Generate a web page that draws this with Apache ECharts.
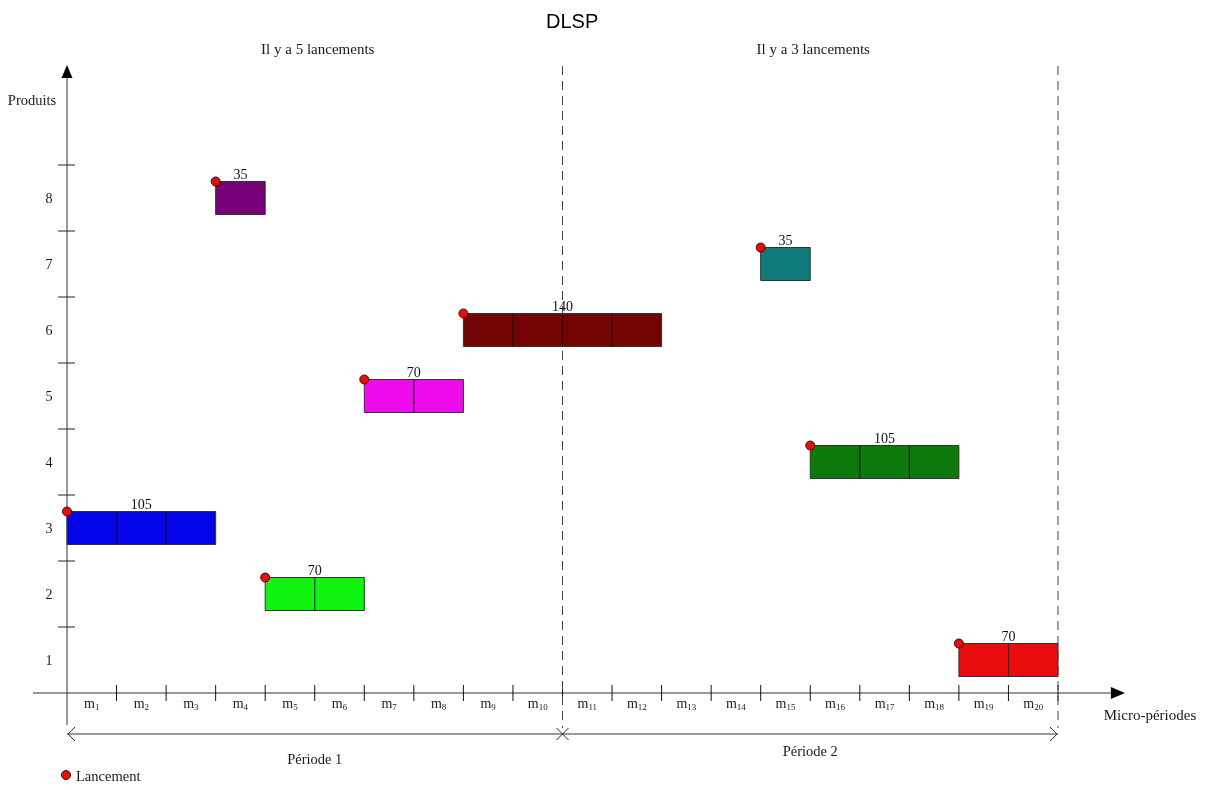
<!DOCTYPE html>
<html>
<head>
<meta charset="utf-8">
<script src="https://cdn.jsdelivr.net/npm/echarts@6/dist/echarts.min.js"></script>
<style>html,body{margin:0;padding:0;background:#fff}#chart{width:1207px;height:790px}</style>
</head>
<body>
<div id="chart"></div>
<script>
// ---- data ----
const titleText = 'DLSP';
const microIndex = ['1','2','3','4','5','6','7','8','9','10','11','12','13','14','15','16','17','18','19','20'];
const productLevels = [1, 2, 3, 4, 5, 6, 7, 8];
const periodBounds = [0, 10, 20];
const periodLabels = ['Période 1', 'Période 2'];
const launchCountLabels = ['Il y a 5 lancements', 'Il y a 3 lancements'];
const barProducts   = [3, 2, 8, 5, 6, 7, 4, 1];
const barStarts     = [0, 4, 3, 6, 8, 14, 15, 18];
const barDurations  = [3, 2, 1, 2, 4, 1, 3, 2];
const barQuantities = [105, 70, 35, 70, 140, 35, 105, 70];

// ---- styles ----
const barPalette = ['#0404e8', '#10f510', '#760076', '#ee0cee', '#730404', '#0f7b7b', '#0b7a0b', '#e80c0c'];
const SERIF = '"Liberation Serif", "DejaVu Serif", serif';
const LINE = '#333';

const chart = echarts.init(document.getElementById('chart'));

const barData = barProducts.map((p, i) => [barStarts[i], p, barDurations[i], barQuantities[i], i]);

function renderBar(params, api) {
  const start = api.value(0), prod = api.value(1), dur = api.value(2), qty = api.value(3), idx = api.value(4);
  const tl = api.coord([start, prod + 0.25]);
  const br = api.coord([start + dur, prod - 0.25]);
  const children = [{
    type: 'rect',
    shape: { x: tl[0], y: tl[1], width: br[0] - tl[0], height: br[1] - tl[1] },
    style: { fill: barPalette[idx], stroke: '#333', lineWidth: 1 }
  }];
  for (let k = 1; k < dur; k++) {
    const x = api.coord([start + k, prod])[0];
    children.push({ type: 'line', shape: { x1: x, y1: tl[1], x2: x, y2: br[1] }, style: { stroke: '#111', lineWidth: 1 } });
  }
  children.push({
    type: 'text',
    style: { text: String(qty), x: (tl[0] + br[0]) / 2, y: tl[1] - 6, align: 'center', verticalAlign: 'middle',
      font: '14px ' + SERIF, fill: '#111' }
  });
  children.push({
    type: 'circle', shape: { cx: tl[0], cy: tl[1], r: 4.5 },
    style: { fill: '#e01010', stroke: '#5a0000', lineWidth: 1 }
  });
  return { type: 'group', children };
}

function renderFrame(params, api) {
  const o = api.coord([0, 0.5]);           // axis origin
  const ch = [];
  const ln = (x1, y1, x2, y2, st) => ch.push({ type: 'line', shape: { x1, y1, x2, y2 }, style: Object.assign({ stroke: LINE, lineWidth: 1 }, st || {}) });
  const tx = (text, x, y, font, extra) => ch.push({ type: 'text', style: Object.assign({ text, x, y, font, fill: '#1a1a1a', align: 'center', verticalAlign: 'middle' }, extra || {}) });
  const xEnd = api.coord([20, 0.5])[0];
  const xAxisTip = api.coord([21.35, 0.5])[0];
  const yTop = api.coord([0, 10])[1];
  // x axis
  ln(o[0] - 34, o[1], xAxisTip - 12, o[1]);
  ch.push({ type: 'polygon', shape: { points: [[xAxisTip, o[1]], [xAxisTip - 14, o[1] - 6], [xAxisTip - 14, o[1] + 6]] }, style: { fill: '#000' } });
  // y axis
  ln(o[0], o[1] + 32, o[0], yTop + 12);
  ch.push({ type: 'polygon', shape: { points: [[o[0], yTop - 1], [o[0] - 5.5, yTop + 12], [o[0] + 5.5, yTop + 12]] }, style: { fill: '#000' } });
  // y ticks and labels
  productLevels.forEach(p => {
    const yt = api.coord([0, p + 0.5])[1];
    ln(o[0] - 9, yt, o[0] + 8, yt, { stroke: '#222' });
    const yl = api.coord([0, p])[1];
    tx(String(p), o[0] - 18, yl + 1, '14px ' + SERIF);
  });
  // x ticks and labels
  microIndex.forEach((lab, i) => {
    const xt = api.coord([i + 1, 0.5])[0];
    ln(xt, o[1] - 8, xt, o[1] + 8, { stroke: '#111' });
    const xc = api.coord([i + 0.5, 0.5])[0];
    ch.push({ type: 'text', style: {
      text: '{m|m}{s|' + lab + '}', x: xc, y: o[1] + 11, align: 'center', verticalAlign: 'middle',
      rich: { m: { font: '14px ' + SERIF, fill: '#222', lineHeight: 16, verticalAlign: 'middle' },
              s: { font: '9px ' + SERIF, fill: '#222', lineHeight: 8, verticalAlign: 'bottom' } }
    } });
  });
  // dashed period boundaries
  [periodBounds[1], periodBounds[2]].forEach(b => {
    const xb = api.coord([b, 0.5])[0];
    ln(xb, yTop, xb, o[1] + 35, { stroke: '#444', lineDash: [9, 6] });
  });
  // period arrow
  const ya = o[1] + 41;
  const xMid = api.coord([periodBounds[1], 0.5])[0];
  ln(o[0], ya, xEnd, ya);
  ch.push({ type: 'polyline', shape: { points: [[o[0] + 8, ya - 7], [o[0] + 1, ya], [o[0] + 8, ya + 7]] }, style: { stroke: LINE, fill: null, lineWidth: 1 } });
  ch.push({ type: 'polyline', shape: { points: [[xEnd - 8, ya - 7], [xEnd - 1, ya], [xEnd - 8, ya + 7]] }, style: { stroke: LINE, fill: null, lineWidth: 1 } });
  ln(xMid - 6, ya - 6, xMid + 6, ya + 6, { stroke: '#222' });
  ln(xMid - 6, ya + 6, xMid + 6, ya - 6, { stroke: '#222' });
  // period labels & launch counts
  periodLabels.forEach((lab, i) => {
    const xc = api.coord([(periodBounds[i] + periodBounds[i + 1]) / 2, 0.5])[0];
    tx(lab, xc + 0, o[1] + (i === 0 ? 67 : 59), '14.5px ' + SERIF);
    tx(launchCountLabels[i], xc + 3, 50, '15px ' + SERIF);
  });
  // axis names
  tx('Produits', 32, 101, '14.5px ' + SERIF);
  tx('Micro-périodes', 1150, o[1] + 23, '15px ' + SERIF);
  // legend
  ch.push({ type: 'circle', shape: { cx: 66, cy: 775, r: 4.5 }, style: { fill: '#e01010', stroke: '#5a0000', lineWidth: 1 } });
  tx('Lancement', 76, 777, '14.5px ' + SERIF, { align: 'left' });
  return { type: 'group', children: ch };
}

chart.setOption({
  animation: false,
  backgroundColor: '#fff',
  title: { text: titleText, left: 541, top: 7, textStyle: { fontFamily: '"Liberation Sans", Arial, sans-serif', fontSize: 20, fontWeight: 'normal', color: '#000' } },
  grid: { left: 67, right: 149, top: 66, bottom: 97 },
  xAxis: { type: 'value', min: 0, max: 20, show: false },
  yAxis: { type: 'value', min: 0.5, max: 10, show: false },
  series: [
    { type: 'custom', name: 'frame', renderItem: renderFrame, data: [[0, 0.5]], clip: false, silent: true, z: 1 },
    { type: 'custom', name: 'launches', renderItem: renderBar, data: barData, clip: false, z: 3,
      encode: { x: [0, 2], y: 1 } }
  ]
});
</script>
</body>
</html>
